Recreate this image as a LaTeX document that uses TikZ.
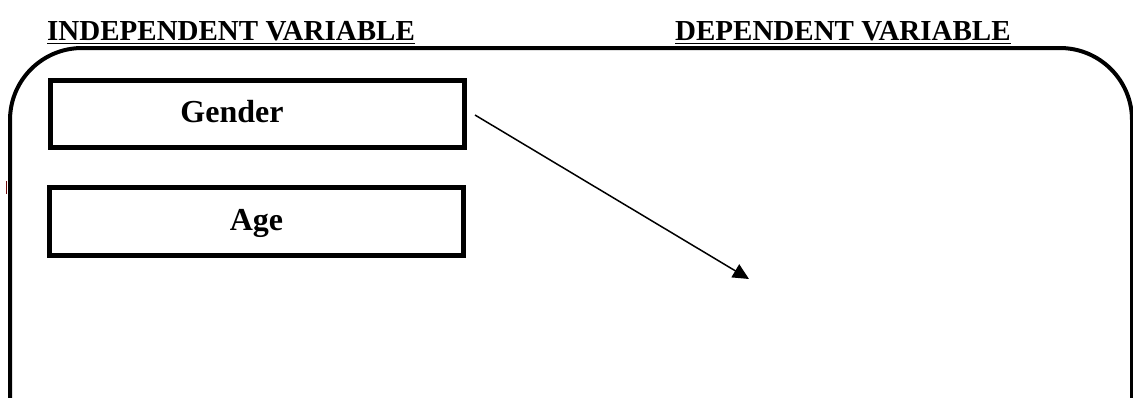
\documentclass[tikz,border=0pt]{standalone}
\usepackage{fontspec}
\setmainfont{Liberation Serif}
\usetikzlibrary{arrows.meta}
\definecolor{darkred}{RGB}{110,10,10}
\tikzset{
  heading/.style={font=\bfseries\fontsize{29}{32}\selectfont, inner sep=0pt, anchor=base west},
  varbox/.style={draw, line width=5pt},
  varlabel/.style={font=\bfseries\fontsize{32}{36}\selectfont, inner sep=0pt, anchor=base},
  border/.style={draw, line width=4pt, rounded corners=72pt},
  link/.style={line width=1.5pt, -{Triangle[length=16pt,width=15pt]}}
}
\begin{document}
\begin{tikzpicture}[x=1pt,y=-1pt]
\useasboundingbox (0,0) rectangle (1133,397);
\clip (0,0) rectangle (1133,397);
% headings
\node[heading] (ind) at (47,40) {INDEPENDENT VARIABLE};
\node[heading] (dep) at (675,40) {DEPENDENT VARIABLE};
\draw[line width=0.8pt] ([yshift=-3pt]ind.base west) -- ([yshift=-3pt]ind.base east);
\draw[line width=0.8pt] ([yshift=-3pt]dep.base west) -- ([yshift=-3pt]dep.base east);
% big rounded frame
\draw[border] (10,48) rectangle (1132,470);
% boxes
\draw[varbox] (50,80) rectangle (464,147.5);
\node[varlabel] (gender) at (232,122) {Gender};
\draw[varbox] (49.5,187.5) rectangle (463.5,255.5);
\node[varlabel] (age) at (256.5,230) {Age};
% small mark
\fill[darkred] (5.5,181) rectangle (7.2,194);
% arrow
\coordinate (a0) at (475,115);
\coordinate (a1) at (749,279);
\draw[link] (a0) -- (a1);
\end{tikzpicture}
\end{document}
